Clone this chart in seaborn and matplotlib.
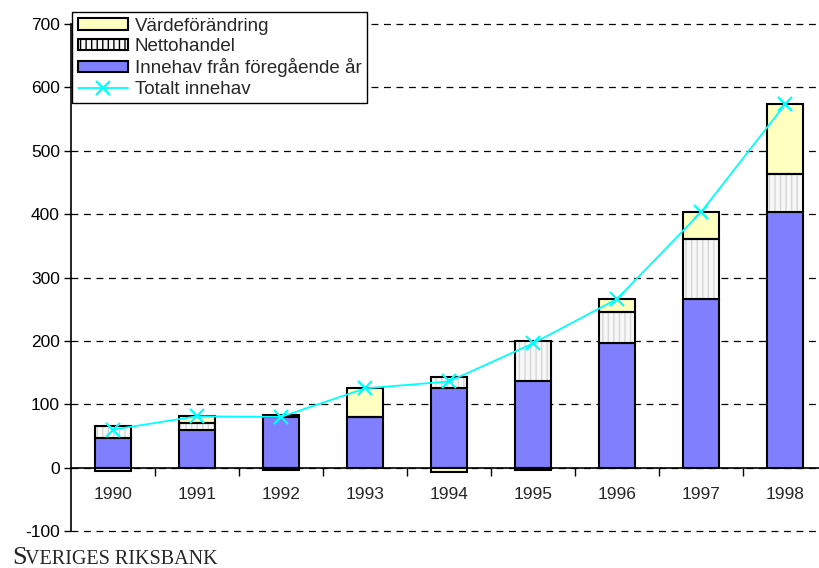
import numpy as np
import pandas as pd
import matplotlib
matplotlib.use("Agg")
import matplotlib.pyplot as plt
from matplotlib.patches import Patch
from matplotlib.lines import Line2D
from matplotlib.ticker import FixedLocator
import seaborn as sns

years = ["1990", "1991", "1992", "1993", "1994", "1995", "1996", "1997", "1998"]
innehav = [47, 59, 80, 80, 125, 136, 196, 266, 403]
netto = [19, 11, 3, 0, 18, 64, 49, 94, 60]
varde = [-6, 11, -3, 45, -7, -4, 21, 43, 110]
totalt = [60, 81, 80, 125, 136, 196, 266, 403, 573]

BLUE = "#8080ff"
YELLOW = "#ffffc0"
CYAN = "#00ffff"

sns.set_style("white")
plt.rcParams["font.family"] = ["Liberation Sans", "DejaVu Sans"]

df = pd.DataFrame({"year": years, "innehav": innehav, "netto": netto,
                   "varde": varde, "totalt": totalt})
x = np.arange(len(years))
w = 0.42

fig = plt.figure(figsize=(8.2, 5.68), dpi=100)
ax = fig.add_axes([71 / 820, 1 - 531 / 568, 749 / 820, 507 / 568])

# holdings from previous year
sns.barplot(data=df, x="year", y="innehav", color=BLUE, saturation=1,
            width=w, edgecolor="black", linewidth=1.5, ax=ax, zorder=3)

# net trading, hatched light grey then outlined
netto_arr = np.array(netto)
inn_arr = np.array(innehav)
ax.bar(x, netto_arr, w, bottom=inn_arr, color="#f7f7f7", hatch="|||",
       edgecolor="#d6d6d6", linewidth=0, zorder=3)
ax.bar(x, netto_arr, w, bottom=inn_arr, fill=False, edgecolor="black",
       linewidth=1.5, zorder=4)

# value change: positive on top of stack, negative below zero
varde_arr = np.array(varde)
bottoms = np.where(varde_arr >= 0, inn_arr + netto_arr, 0)
ax.bar(x, varde_arr, w, bottom=bottoms, color=YELLOW, edgecolor="black",
       linewidth=1.5, zorder=3)

# total holdings line
sns.lineplot(x=x, y=df["totalt"], color=CYAN, linewidth=1.3, marker="x",
             markersize=10, markeredgewidth=1.6, markeredgecolor=CYAN,
             ax=ax, zorder=5)

ax.set_ylim(-100, 700)
ax.set_xlim(-0.5, 8.5 - 7 / 84)
ax.set_yticks(np.arange(-100, 701, 100))
ax.set_yticklabels([str(v) for v in range(-100, 701, 100)], fontsize=12.5)
ax.tick_params(axis="y", direction="out", length=5, width=1, colors="black",
               left=True, pad=3)

ax.grid(axis="y", color="black", linestyle=(0, (5.5, 4.5)), linewidth=0.9)
ax.grid(axis="x", visible=False)
for gl in ax.get_ygridlines():
    gl.set_clip_on(False)
ax.set_axisbelow(True)

for s in ["top", "right"]:
    ax.spines[s].set_visible(False)
ax.spines["left"].set_color("black")
ax.spines["left"].set_linewidth(1.2)
ax.spines["bottom"].set_position(("data", 0))
ax.spines["bottom"].set_color("black")
ax.spines["bottom"].set_linewidth(1.2)

ax.set_xticks(x)
ax.set_xticklabels(years, fontsize=12.5)
ax.xaxis.set_minor_locator(FixedLocator(np.arange(0.5, 8, 1)))
ax.tick_params(axis="x", which="major", length=0, pad=14, bottom=True)
ax.tick_params(axis="x", which="minor", direction="out", length=6, width=1,
               colors="black", bottom=True)
ax.set_xlabel("")
ax.set_ylabel("")
if ax.get_legend():
    ax.get_legend().remove()

handles = [
    Patch(facecolor=YELLOW, edgecolor="black", linewidth=1.5),
    Patch(facecolor="#f7f7f7", edgecolor="black", hatch="|||", linewidth=1.5),
    Patch(facecolor=BLUE, edgecolor="black", linewidth=1.5),
    Line2D([], [], color=CYAN, linewidth=1.3, marker="x", markersize=10,
           markeredgewidth=1.6),
]
labels = ["Värdeförändring", "Nettohandel", "Innehav från föregående år",
          "Totalt innehav"]
leg = fig.legend(handles, labels, loc="upper left",
                 bbox_to_anchor=(72 / 820, 1 - 12 / 568), borderaxespad=0,
                 fontsize=13.5, frameon=True, fancybox=False, framealpha=1,
                 edgecolor="black", handlelength=2.7, handleheight=0.55,
                 handletextpad=0.35, labelspacing=0.18, borderpad=0.3)
leg.get_frame().set_linewidth(1.0)

# footer
fig.text(12 / 820, 4 / 568, "S", family="Liberation Serif", fontsize=19,
         va="baseline", ha="left")
fig.text(25 / 820, 4 / 568, "VERIGES RIKSBANK", family="Liberation Serif",
         fontsize=14.5, va="baseline", ha="left")

fig.savefig("out.png", dpi=100)
